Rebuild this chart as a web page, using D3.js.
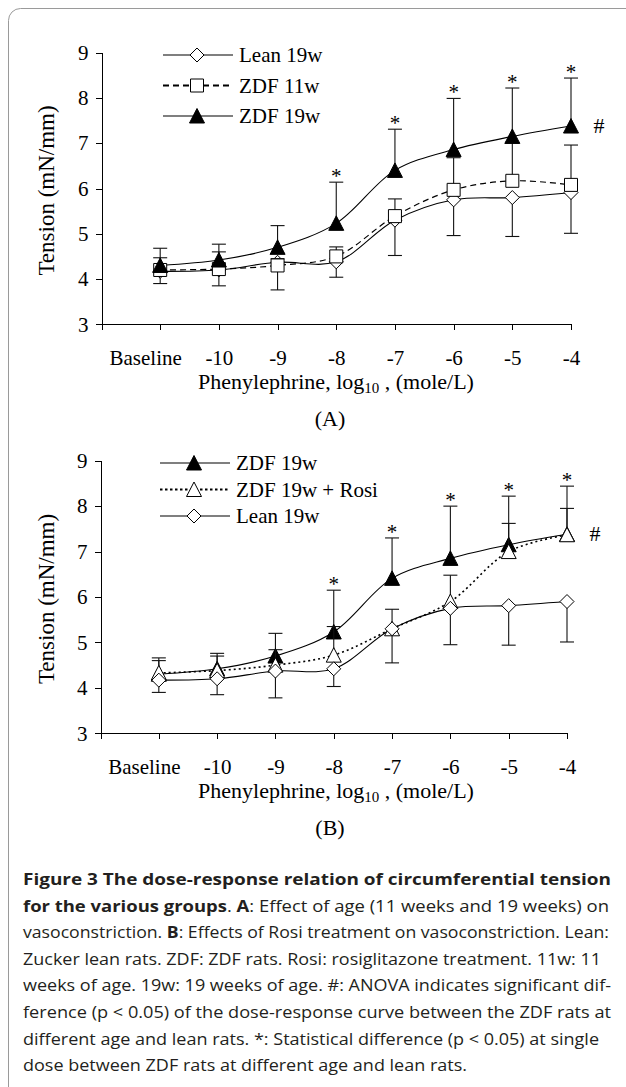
<!DOCTYPE html>
<html>
<head>
<meta charset="utf-8">
<title>Figure 3</title>
<script src="https://d3js.org/d3.v7.min.js"></script>
<style>
 html, body { margin: 0; padding: 0; background: #fff; }
 svg { display: block; }
 .serif { font-family: "Liberation Serif", "Times New Roman", serif; fill: #000; }
 .axis path, .axis line { stroke: #000; stroke-width: 1; shape-rendering: crispEdges; }
 .axis text { font-family: "Liberation Serif", serif; font-size: 21px; fill: #000; }
 .caption { font-family: "Open Sans", "Noto Sans", sans-serif; font-size: 16px; fill: #231f20; }
</style>
</head>
<body>
<div id="chart"></div>
<script>
// categories and ticks
const doseLabels = ["Baseline", "-10", "-9", "-8", "-7", "-6", "-5", "-4"];
const yTicks = [3, 4, 5, 6, 7, 8, 9];

// panel A values (mN/mm)
const leanA      = [4.17, 4.20, 4.37, 4.38, 5.30, 5.75, 5.80, 5.91];
const leanA_lo   = [3.90, 3.85, 3.76, 4.04, 4.52, 4.96, 4.94, 5.01];
const zdf11A     = [4.20, 4.22, 4.30, 4.50, 5.39, 5.97, 6.17, 6.08];
const zdf11A_hi  = [4.47, 4.60, 4.45, 4.71, 5.77, 6.68, 7.02, 6.96];
const zdf19A     = [4.30, 4.42, 4.70, 5.23, 6.40, 6.86, 7.15, 7.38];
const zdf19A_hi  = [4.68, 4.77, 5.18, 6.14, 7.31, 7.99, 8.22, 8.44];
const starsA     = [3, 4, 5, 6, 7];

// panel B values
const zdf19B     = [4.30, 4.42, 4.70, 5.23, 6.41, 6.85, 7.15, 7.38];
const zdf19B_hi  = [4.66, 4.76, 5.20, 6.15, 7.30, 8.00, 8.22, 8.44];
const rosiB      = [4.33, 4.38, 4.50, 4.72, 5.30, 5.90, 7.00, 7.37];
const rosiB_hi   = [4.60, 4.70, 4.84, 5.35, 5.73, 6.48, 7.62, 7.95];
const leanB      = [4.17, 4.20, 4.37, 4.42, 5.30, 5.75, 5.81, 5.90];
const leanB_lo   = [3.90, 3.85, 3.78, 4.03, 4.55, 4.95, 4.94, 5.01];
const starsB     = [3, 4, 5, 6, 7];

const captionLines = [
  [["b", "Figure 3 The dose-response relation of circumferential tension"]],
  [["b", "for the various groups"], ["n", ". "], ["b", "A"], ["n", ": Effect of age (11 weeks and 19 weeks) on"]],
  [["n", "vasoconstriction. "], ["b", "B"], ["n", ": Effects of Rosi treatment on vasoconstriction. Lean:"]],
  [["n", "Zucker lean rats. ZDF: ZDF rats. Rosi: rosiglitazone treatment. 11w: 11"]],
  [["n", "weeks of age. 19w: 19 weeks of age. #: ANOVA indicates significant dif-"]],
  [["n", "ference (p < 0.05) of the dose-response curve between the ZDF rats at"]],
  [["n", "different age and lean rats. *: Statistical difference (p < 0.05) at single"]],
  [["n", "dose between ZDF rats at different age and lean rats."]]
];
const captionWidths = [588, 586, 586, 578, 588, 588, 576, 444];

const W = 626, H = 1087;
const svg = d3.select("#chart").append("svg").attr("width", W).attr("height", H);

// card outline (only top-left corner is visible)
svg.append("rect")
   .attr("x", 8.5).attr("y", 8.5).attr("width", 800).attr("height", 1300)
   .attr("rx", 12).attr("fill", "none").attr("stroke", "#9a9a9a").attr("stroke-width", 1);

// marker shapes
const marker = (type) => {
    const p = d3.path();
    if (type === "diamond") {
        p.moveTo(0, -7); p.lineTo(7, 0); p.lineTo(0, 7); p.lineTo(-7, 0); p.closePath();
    } else if (type === "square") {
        p.rect(-6.5, -6.5, 13, 13);
    } else {
        p.moveTo(0, -7.5); p.lineTo(7.5, 7); p.lineTo(-7.5, 7); p.closePath();
    }
    return p.toString();
};

const drawPanel = (cfg) => {
    const x = d3.scaleLinear().domain([0, 8]).range([cfg.left, cfg.right]);
    const y = d3.scaleLinear().domain([3, 9]).range([cfg.bottom, cfg.top]);
    const g = svg.append("g");

    // axes
    g.append("g")
     .attr("class", "axis")
     .attr("transform", "translate(0," + cfg.bottom + ")")
     .call(d3.axisBottom(x).tickValues(d3.range(0, 9)).tickSize(6).tickSizeOuter(0).tickPadding(20)
             .tickFormat(i => i === 0 ? "" : doseLabels[i - 1]))
     .call(a => a.selectAll(".tick text").filter(i => i === 1).attr("dx", -15));
    g.append("g")
     .attr("class", "axis")
     .attr("transform", "translate(" + cfg.left + ",0)")
     .call(d3.axisLeft(y).tickValues(yTicks).tickSize(6).tickSizeOuter(0).tickPadding(7)
             .tickFormat(d3.format("d")));

    // axis titles
    g.append("text").attr("class", "serif")
     .attr("transform", "translate(54," + ((cfg.top + cfg.bottom) / 2 + 2) + ") rotate(-90)")
     .attr("text-anchor", "middle").attr("font-size", 23)
     .text("Tension (mN/mm)");
    const xt = g.append("text").attr("class", "serif")
     .attr("x", 336).attr("y", cfg.bottom + 65)
     .attr("text-anchor", "middle").attr("font-size", 22);
    xt.append("tspan").text("Phenylephrine, log");
    xt.append("tspan").attr("font-size", 15).attr("dy", 4).text("10");
    xt.append("tspan").attr("dy", -4).text(" , (mole/L)");
    g.append("text").attr("class", "serif")
     .attr("x", 330).attr("y", cfg.bottom + 102)
     .attr("text-anchor", "middle").attr("font-size", 22)
     .text(cfg.panel);

    const line = d3.line()
        .x((d, i) => x(i + 1))
        .y(d => y(d))
        .curve(d3.curveCatmullRom.alpha(0.5));

    cfg.series.forEach(s => {
        g.append("path")
         .datum(s.values)
         .attr("fill", "none")
         .attr("stroke", "#000")
         .attr("stroke-width", s.width)
         .attr("stroke-dasharray", s.dash)
         .attr("d", line);
    });

    cfg.series.forEach(s => {
        const eb = g.append("g").attr("stroke", "#111").attr("stroke-width", 1.1);
        s.err.forEach((e, i) => {
            eb.append("line").attr("x1", x(i + 1)).attr("x2", x(i + 1))
              .attr("y1", y(s.values[i])).attr("y2", y(e));
            eb.append("line").attr("x1", x(i + 1) - 7).attr("x2", x(i + 1) + 7)
              .attr("y1", y(e)).attr("y2", y(e));
        });
        g.selectAll(null)
         .data(s.values)
         .join("path")
         .attr("transform", (d, i) => "translate(" + x(i + 1) + "," + y(d) + ")")
         .attr("d", marker(s.shape))
         .attr("fill", s.fill)
         .attr("stroke", "#000")
         .attr("stroke-width", 1);
    });

    // significance marks
    const starSeries = cfg.series[cfg.starOn];
    g.selectAll(null)
     .data(cfg.stars)
     .join("text")
     .attr("class", "serif")
     .attr("text-anchor", "middle")
     .attr("font-size", 21)
     .attr("x", i => x(i + 1))
     .attr("y", i => y(starSeries.err[i]) + 1)
     .text("*");
    g.append("text").attr("class", "serif")
     .attr("x", x(8) + 28).attr("y", y(starSeries.values[7]) + 7)
     .attr("text-anchor", "middle").attr("font-size", 22)
     .text("#");

    // legend
    cfg.legend.forEach((k, j) => {
        const s = cfg.series[k];
        const ly = cfg.legY + j * cfg.legStep;
        g.append("line")
         .attr("x1", cfg.legX).attr("x2", cfg.legX + 70)
         .attr("y1", ly).attr("y2", ly)
         .attr("stroke", "#000")
         .attr("stroke-width", s.legWidth)
         .attr("stroke-dasharray", s.legDash);
        g.append("path")
         .attr("transform", "translate(" + (cfg.legX + 34) + "," + ly + ")")
         .attr("d", marker(s.shape))
         .attr("fill", s.fill).attr("stroke", "#000");
        g.append("text").attr("class", "serif")
         .attr("x", cfg.legX + 76).attr("y", ly + 7)
         .attr("font-size", 21)
         .text(s.name);
    });
};

drawPanel({
    panel: "(A)", left: 101.5, right: 571, top: 52.7, bottom: 324.3,
    series: [
        {name: "Lean 19w", values: leanA, err: leanA_lo, shape: "diamond", fill: "#fff", width: 1.1, dash: null, legWidth: 1.1, legDash: null},
        {name: "ZDF 11w", values: zdf11A, err: zdf11A_hi, shape: "square", fill: "#fff", width: 1.2, dash: "6,4", legWidth: 2, legDash: "6,4"},
        {name: "ZDF 19w", values: zdf19A, err: zdf19A_hi, shape: "triangle", fill: "#000", width: 1.1, dash: null, legWidth: 1.1, legDash: null}
    ],
    starOn: 2, stars: starsA,
    legend: [0, 1, 2], legX: 163, legY: 55, legStep: 30.5
});

drawPanel({
    panel: "(B)", left: 100.5, right: 567, top: 460.7, bottom: 733.3,
    series: [
        {name: "ZDF 19w", values: zdf19B, err: zdf19B_hi, shape: "triangle", fill: "#000", width: 1.1, dash: null, legWidth: 1.1, legDash: null},
        {name: "ZDF 19w + Rosi", values: rosiB, err: rosiB_hi, shape: "triangle", fill: "#fff", width: 1.6, dash: "2,3", legWidth: 2, legDash: "2.5,2.5"},
        {name: "Lean 19w", values: leanB, err: leanB_lo, shape: "diamond", fill: "#fff", width: 1.1, dash: null, legWidth: 1.1, legDash: null}
    ],
    starOn: 0, stars: starsB,
    legend: [0, 1, 2], legX: 160, legY: 463, legStep: 26.5
});

// caption
captionLines.forEach((parts, i) => {
    const t = svg.append("text").attr("class", "caption")
        .attr("x", 23).attr("y", 885 + i * 26.6)
        .attr("textLength", captionWidths[i])
        .attr("lengthAdjust", "spacingAndGlyphs");
    parts.forEach(p => {
        t.append("tspan").attr("font-weight", p[0] === "b" ? 700 : 400).text(p[1]);
    });
});
</script>
</body>
</html>
